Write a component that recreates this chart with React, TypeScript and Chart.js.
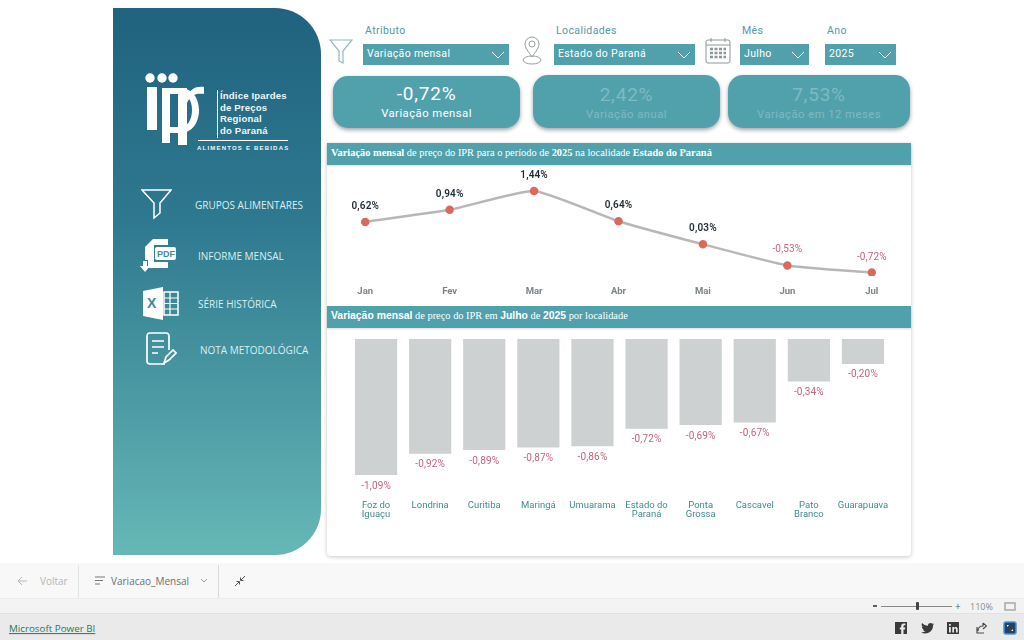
import { useEffect, useRef, type CSSProperties, type ReactNode } from "react";
import { Chart, registerables, type ChartConfiguration, type Plugin } from "chart.js";

Chart.register(...registerables);

const months = ["Jan", "Fev", "Mar", "Abr", "Mai", "Jun", "Jul"];
const monthlyChange = [0.62, 0.94, 1.44, 0.64, 0.03, -0.53, -0.72];

const places = [
  ["Foz do", "Iguaçu"],
  "Londrina",
  "Curitiba",
  "Maringá",
  "Umuarama",
  ["Estado do", "Paraná"],
  ["Ponta", "Grossa"],
  "Cascavel",
  ["Pato", "Branco"],
  "Guarapuava",
];
const placeChange = [-1.09, -0.92, -0.89, -0.87, -0.86, -0.72, -0.69, -0.67, -0.34, -0.2];

const TEAL = "#51a1ac";
const PINK = "#c9627c";
const DIN = "Roboto, sans-serif";
const UI = "'Open Sans', sans-serif";

const pct = (v: number) => v.toFixed(2).replace(".", ",") + "%";

// value labels drawn on top of the marks, the library has no built-in for this
function valueLabels(above: boolean, size: number, positiveWeight: string): Plugin {
  return {
    id: "valueLabels",
    afterDatasetsDraw(chart) {
      const ctx = chart.ctx as CanvasRenderingContext2D & { letterSpacing: string };
      const values = chart.data.datasets[0].data as number[];
      ctx.save();
      ctx.textAlign = "center";
      ctx.textBaseline = "middle";
      ctx.letterSpacing = "0.15px";
      chart.getDatasetMeta(0).data.forEach((el, i) => {
        const v = values[i];
        ctx.font = `${v < 0 ? "400" : positiveWeight} ${size}px ${DIN}`;
        ctx.fillStyle = v < 0 ? PINK : "#1d2b36";
        ctx.fillText(pct(v), el.x, el.y + (above ? -15.5 : 11));
      });
      ctx.restore();
    },
  };
}

function ChartCanvas({ config, style, width, height }: { config: ChartConfiguration; style: CSSProperties; width: number; height: number }) {
  const canvasRef = useRef<HTMLCanvasElement>(null);
  useEffect(() => {
    if (!canvasRef.current) return;
    const chart = new Chart(canvasRef.current, config);
    return () => chart.destroy();
  }, [config]);
  return <canvas ref={canvasRef} width={width} height={height} style={{ position: "absolute", ...style }} />;
}

const lineConfig: ChartConfiguration = {
  type: "line",
  data: {
    labels: months,
    datasets: [
      {
        data: monthlyChange,
        borderColor: "#b9b6b6",
        borderWidth: 2.5,
        tension: 0.15,
        pointBackgroundColor: "#dc6a5c",
        pointBorderColor: "#dc6a5c",
        pointRadius: 3,
      },
    ],
  },
  options: {
    responsive: false,
    animation: false,
    layout: { padding: 0, autoPadding: false },
    plugins: { legend: { display: false }, tooltip: { enabled: false } },
    scales: {
      x: {
        offset: true,
        grid: { display: false, drawTicks: false },
        border: { display: false },
        ticks: { color: "#7d8488", font: { family: DIN, size: 9.5, weight: "bold" }, padding: 10 },
        afterFit: (s: any) => { s.height = 24; },
      },
      y: { display: false, min: -0.81, max: 2.1 },
    },
  },
  plugins: [valueLabels(true, 10, "600")],
};

const barConfig: ChartConfiguration = {
  type: "bar",
  data: {
    labels: places as any,
    datasets: [
      {
        data: placeChange,
        backgroundColor: "#cdd1d1",
        barPercentage: 0.78,
        categoryPercentage: 1,
      },
    ],
  },
  options: {
    responsive: false,
    animation: false,
    layout: { padding: 0, autoPadding: false },
    plugins: { legend: { display: false }, tooltip: { enabled: false } },
    scales: {
      x: {
        grid: { display: false, drawTicks: false },
        border: { display: false },
        ticks: {
          color: "#3f8d8f",
          font: { family: DIN, size: 9.5, lineHeight: 0.95 },
          autoSkip: false,
          maxRotation: 0,
          padding: 6,
        },
        // the long last label would otherwise squeeze the bands
        afterFit: (s: any) => { s.height = 30; s.paddingLeft = 0; s.paddingRight = 0; },
      },
      y: { display: false, min: -1.25, max: 0 },
    },
  },
  plugins: [valueLabels(false, 10, "400")],
};

function Abs({ x, y, w, h, style, children }: { x: number; y: number; w?: number; h?: number; style?: CSSProperties; children?: ReactNode }) {
  return <div style={{ position: "absolute", left: x, top: y, width: w, height: h, ...style }}>{children}</div>;
}

function Label({ x, y, size, color, font = DIN, weight = 400, spacing, children }: { x: number; y: number; size: number; color: string; font?: string; weight?: number; spacing?: number; children: ReactNode }) {
  return (
    <div style={{ position: "absolute", left: x, top: y, transform: "translateY(-50%)", fontFamily: font, fontSize: size, color, fontWeight: weight, letterSpacing: spacing, whiteSpace: "nowrap", lineHeight: 1 }}>
      {children}
    </div>
  );
}

function Dropdown({ x, w, label, value }: { x: number; w: number; label: string; value: string }) {
  return (
    <>
      <Label x={x + 2} y={31} size={10.5} color="#4f9aa6" spacing={0.4}>{label}</Label>
      <Abs x={x} y={44} w={w} h={21} style={{ background: TEAL }}>
        <Label x={4} y={10} size={10.5} color="#fff" spacing={0.35}>{value}</Label>
        <svg style={{ position: "absolute", right: 4, top: 7 }} width="14" height="9" fill="none" stroke="#fff" strokeWidth="1">
          <path d="M1 1 L7 7 L13 1" />
        </svg>
      </Abs>
    </>
  );
}

function Card({ x, y, w, h, value, label, color, dy = 0 }: { x: number; y: number; w: number; h: number; value: string; label: string; color: string; dy?: number }) {
  return (
    <Abs x={x} y={y} w={w} h={h} style={{ background: TEAL, borderRadius: 15, boxShadow: "0 2px 4px rgba(40,50,60,.45)", textAlign: "center", fontFamily: DIN, color }}>
      <div style={{ position: "absolute", top: 7 + dy, width: "100%", fontSize: 19, lineHeight: "22px", letterSpacing: 0.8 }}>{value}</div>
      <div style={{ position: "absolute", top: 30 + dy, width: "100%", fontSize: 11.3, lineHeight: "16px", letterSpacing: 0.45 }}>{label}</div>
    </Abs>
  );
}

function Header({ y, children }: { y: number; children: ReactNode }) {
  return (
    <Abs x={327} y={y} w={584} h={22} style={{ background: TEAL, color: "#fff", fontFamily: "'Liberation Serif', serif", fontSize: 10.4, lineHeight: "20px", paddingLeft: 4, boxSizing: "border-box", whiteSpace: "nowrap", boxShadow: "0 1px 2px rgba(0,0,0,.15)" }}>
      {children}
    </Abs>
  );
}

const sansBold: CSSProperties = { fontFamily: "'Liberation Sans', sans-serif", fontWeight: 700 };

function Logo() {
  return (
    <svg style={{ position: "absolute", left: 143, top: 73 }} width="70" height="75" fill="#fff">
      <circle cx="7" cy="5" r="4.7" />
      <circle cx="19" cy="5" r="4.7" />
      <circle cx="30" cy="5" r="4.7" />
      <rect x="4" y="14" width="10" height="43" />
      <path fillRule="evenodd" d="M19 15 H37 C50 15 56 26 56 37 C56 50 49 60 37 60 H27 V70 H19 Z M27 21 V54 H37 C45 54 49 46 49 37 C49 28 45 21 37 21 Z" />
      <rect x="35" y="15" width="9" height="57" />
      <path d="M44 24 C47 16 53 13 61 14 V21 C54 20 48 21 44 30 Z" />
    </svg>
  );
}

function Stroke({ x, y, w, h, box, children, color = "#fff", sw = 1.5 }: { x: number; y: number; w: number; h: number; box: string; children: ReactNode; color?: string; sw?: number }) {
  return (
    <svg style={{ position: "absolute", left: x, top: y }} width={w} height={h} viewBox={box} fill="none" stroke={color} strokeWidth={sw}>
      {children}
    </svg>
  );
}

function Sidebar() {
  const item = { font: UI, size: 10, color: "#dbeef0" };
  return (
    <>
      <Abs x={113} y={8} w={208} h={547} style={{ background: "linear-gradient(180deg,#20627f 0%,#2f7a90 40%,#66b8b6 100%)", borderRadius: "0 46px 46px 0" }} />
      <Logo />
      <Abs x={217} y={90} w={1} h={48} style={{ background: "#fff" }} />
      <Abs x={198} y={140} w={90} h={1} style={{ background: "#fff" }} />
      {["Índice Ipardes", "de Preços", "Regional", "do Paraná"].map((t, i) => (
        <Label key={t} x={220} y={96 + i * 11.6} size={9.6} color="#eef5f6" font="'Liberation Sans', sans-serif" weight={700} spacing={0.15}>{t}</Label>
      ))}
      <Label x={197} y={148} size={6} color="#eef5f6" font="'Liberation Sans', sans-serif" weight={700} spacing={1.2}>ALIMENTOS E BEBIDAS</Label>

      <Stroke x={141} y={188} w={31} h={32} box="0 0 31 32"><path d="M1 2 H30 L19 15 V25 L13 30 V15 Z" /></Stroke>
      <Label x={195} y={205} {...item}>GRUPOS ALIMENTARES</Label>

      <svg style={{ position: "absolute", left: 140, top: 238 }} width="36" height="34" fill="#fff">
        <path d="M5 9 L13 1 H28 V7 H14 V24 H28 V30 H8 V22 H5 Z" />
        <rect x="15" y="9" width="21" height="13" rx="2" />
        <text x="17" y="19" fontSize="9" fontWeight="700" fontFamily="'Liberation Sans', sans-serif" fill="#3f8b9c">PDF</text>
        <path d="M3 23 V28 H0 L5 34 L10 28 H7 V23 Z" />
      </svg>
      <Label x={198} y={256} {...item}>INFORME MENSAL</Label>

      <svg style={{ position: "absolute", left: 143, top: 287 }} width="36" height="33" fill="#fff">
        <path d="M0 4 L20 0 V33 L0 29 Z" />
        <rect x="21" y="5" width="14" height="23" fill="none" stroke="#fff" strokeWidth="1.5" />
        <path d="M21 11 H35 M21 16.5 H35 M21 22 H35 M27 5 V28" stroke="#fff" strokeWidth="1.2" />
        <text x="4" y="21" fontSize="14" fontWeight="700" fontFamily="'Liberation Sans', sans-serif" fill="#3f8b9c">X</text>
      </svg>
      <Label x={198} y={304} {...item}>SÉRIE HISTÓRICA</Label>

      <Stroke x={145} y={331} w={32} h={35} box="0 0 32 35" sw={1.7}>
        <path d="M20 33 H5 Q2 33 2 30 V5 Q2 2 5 2 H21 Q24 2 24 5 V19" />
        <path d="M7 10 H19 M7 16 H19 M7 22 H13" />
        <path d="M19 32 L21 26 L28 19 L31 22 L24 29 Z" />
      </Stroke>
      <Label x={200} y={350} {...item}>NOTA METODOLÓGICA</Label>
    </>
  );
}

function Footer() {
  const grey = "#5a5f63";
  return (
    <>
      <Abs x={0} y={563} w={1024} h={37} style={{ background: "#f8f8f8" }} />
      <Abs x={0} y={598} w={1024} h={15} style={{ background: "#f3f3f3", borderTop: "1px solid #ececec", boxSizing: "border-box" }} />
      <Abs x={0} y={613} w={1024} h={27} style={{ background: "#eaeaea", borderTop: "1px solid #e2e2e2", boxSizing: "border-box" }} />
      <Abs x={78} y={565} w={1} h={33} style={{ background: "#e4e4e4" }} />
      <Abs x={218} y={565} w={1} h={33} style={{ background: "#d8d8d8" }} />

      <Stroke x={17} y={576} w={11} h={10} box="0 0 11 10" color="#b9b9b9" sw={1}><path d="M10 5 H1 M5 1 L1 5 L5 9" /></Stroke>
      <Label x={40} y={581} size={10} color="#b5b5b5" font={UI}>Voltar</Label>
      <Stroke x={95} y={576} w={10} h={9} box="0 0 10 9" color="#777" sw={1}><path d="M0 1 H10 M0 4.5 H8 M0 8 H5" /></Stroke>
      <Label x={111} y={581} size={10} color="#707070" font={UI}>Variacao_Mensal</Label>
      <Stroke x={200} y={578} w={8} h={6} box="0 0 8 6" color="#999" sw={1}><path d="M1 1 L4 4 L7 1" /></Stroke>
      <Stroke x={235} y={576} w={10} h={10} box="0 0 10 10" color="#555" sw={1}><path d="M0 10 L4 6 M1.5 5.5 H4.5 V8.5 M10 0 L6 4 M5.5 1.5 V4.5 H8.5" /></Stroke>

      <Abs x={873} y={605} w={4} h={1.5} style={{ background: grey }} />
      <Abs x={881} y={605.5} w={71} h={1} style={{ background: "#8a8a8a" }} />
      <Abs x={916} y={602} w={3} h={8} style={{ background: "#444", borderRadius: 1 }} />
      <Label x={955} y={606} size={10} color={grey} font={UI}>+</Label>
      <Label x={970} y={606} size={9} color="#8a8a8a" font={UI}>110%</Label>
      <Stroke x={1004} y={602} w={12} h={9} box="0 0 12 9" color="#a8a8a8" sw={1.5}><rect x="1" y="1" width="10" height="7" /></Stroke>

      <Label x={9} y={629} size={9.8} color="#1f7a5c" font={UI}>
        <span style={{ textDecoration: "underline" }}>Microsoft Power BI</span>
      </Label>
      <svg style={{ position: "absolute", left: 895, top: 622 }} width="12" height="12">
        <path fill="#3a3a3a" d="M0 0 H12 V12 H8.5 V7.5 H10 L10.3 5.5 H8.5 V4.4 C8.5 3.6 8.8 3.2 9.6 3.2 H10.4 V1.5 H8.8 C7 1.5 6.2 2.6 6.2 4.2 V5.5 H4.8 V7.5 H6.2 V12 H0 Z" />
      </svg>
      <svg style={{ position: "absolute", left: 921, top: 622 }} width="13" height="12">
        <path fill="#3a3a3a" d="M13 2 L11.6 2.4 L12.7 1 L11.2 1.7 C10 .4 7 1 7 3 V3.8 C4.5 3.8 2.5 2.6 1 1 C.3 2.4 .7 4 2 5 L.8 4.7 C.9 6 1.7 7 3 7.4 L1.8 7.5 C2.3 8.6 3.3 9.2 4.5 9.3 C3.3 10.2 1.8 10.5 0 10.4 C4.5 13 12 11 12 3.6 Z" />
      </svg>
      <svg style={{ position: "absolute", left: 947, top: 622 }} width="12" height="12">
        <path fill="#3a3a3a" fillRule="evenodd" d="M0 0 H12 V12 H0 Z M2 5 V10.5 H3.8 V5 Z M2 2 V3.8 H3.8 V2 Z M5.3 5 V10.5 H7 V7.5 C7 6 9 6 9 7.5 V10.5 H10.7 V7 C10.7 4.6 8 4.4 7 5.8 V5 Z" />
      </svg>
      <Stroke x={976} y={622} w={11} h={12} box="0 0 11 12" color="#4a4a4a" sw={1.2}>
        <path d="M7 1 V4 C3 4 2 7 2 9 M7 1 L10.5 4 L7 7 M1 5 V11 H8" />
      </Stroke>
      <svg style={{ position: "absolute", left: 1003, top: 621 }} width="14" height="14">
        <rect x="1" y="1" width="12" height="12" rx="2" fill="#26425f" stroke="#4a93dc" strokeWidth="1.5" />
        <path d="M4 4 H6 L4 6 Z M10 10 H8 L10 8 Z" fill="#fff" />
      </svg>
    </>
  );
}

export default function App() {
  return (
    <div style={{ position: "fixed", left: 0, top: 0, width: 1024, height: 640, background: "#fff", overflow: "hidden" }}>
      <Sidebar />

      <Stroke x={329} y={38} w={24} h={26} box="0 0 24 26" color="#8fb9bf" sw={1.2}>
        <path d="M1 2 H23 L14 13 V25 L10 23 V13 Z" />
      </Stroke>
      <Dropdown x={363} w={146} label="Atributo" value="Variação mensal" />
      <Stroke x={521} y={36} w={22} h={30} box="0 0 22 30" color="#9a9f9f" sw={1}>
        <path d="M11 21 C7 15 4 12 4 8 A7 7 0 0 1 18 8 C18 12 15 15 11 21 Z" />
        <circle cx="11" cy="8" r="3" />
        <ellipse cx="11" cy="24" rx="9" ry="4" />
      </Stroke>
      <Dropdown x={554} w={141} label="Localidades" value="Estado do Paraná" />
      <Stroke x={705} y={37} w={26} h={27} box="0 0 26 27" color="#8c9696" sw={1}>
        <rect x="1" y="3" width="24" height="23" rx="2" />
        <path d="M1 8 H25 M6 1 V5 M20 1 V5" />
        <path d="M5 12 H21 M5 16 H21 M5 20 H21" strokeWidth="2.5" strokeDasharray="3 1.5" />
      </Stroke>
      <Dropdown x={740} w={69} label="Mês" value="Julho" />
      <Dropdown x={825} w={71} label="Ano" value="2025" />

      <Card x={333} y={76} w={187} h={52} value="-0,72%" label="Variação mensal" color="#fff" />
      <Card x={533} y={75} w={187} h={53} value="2,42%" label="Variação anual" color="#7fb9c2" dy={2} />
      <Card x={728} y={75} w={182} h={53} value="7,53%" label="Variação em 12 meses" color="#7fb9c2" dy={2} />

      <Abs x={327} y={143} w={584} h={413} style={{ background: "#fff", boxShadow: "0 1px 4px rgba(0,0,0,.22)", borderRadius: "0 0 4px 4px" }} />

      <Header y={143}>
        <b>Variação mensal</b> de preço do IPR para o período de <b>2025</b> na localidade <b>Estado do Paraná</b>
      </Header>
      <ChartCanvas config={lineConfig} width={591} height={134} style={{ left: 323, top: 166 }} />

      <Header y={306}>
        <span style={sansBold}>Variação mensal</span> de preço do IPR em <span style={sansBold}>Julho</span> de <span style={sansBold}>2025</span> por localidade
      </Header>
      <ChartCanvas config={barConfig} width={541} height={186} style={{ left: 349, top: 339 }} />

      <Footer />
    </div>
  );
}
